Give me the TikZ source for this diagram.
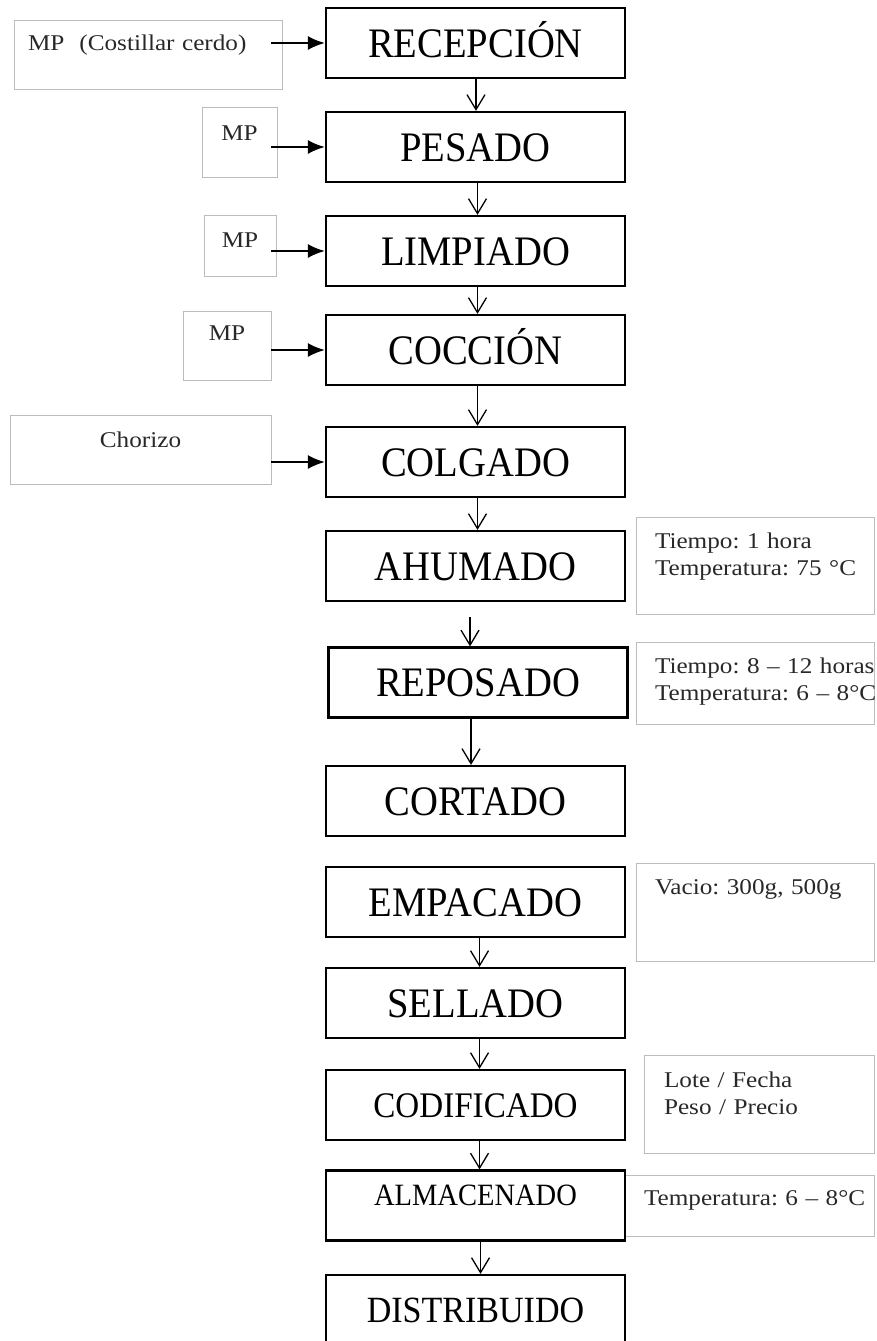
\documentclass[tikz,border=0pt]{standalone}
\usepackage{fontspec}
\usetikzlibrary{arrows.meta}
\newfontfamily\stepfont[FakeStretch=0.92]{Liberation Serif}
\newfontfamily\notefont[FakeStretch=1.12]{Liberation Serif}
\definecolor{noteline}{RGB}{188,188,188}
\definecolor{notetext}{RGB}{40,40,40}
\tikzset{
  stepbox/.style={draw, line width=2.2pt, minimum width=299pt, minimum height=70pt,
    inner sep=0pt, text height=28pt, text depth=0pt,
    font=\stepfont\fontsize{42}{42}\selectfont},
  notebox/.style={draw=noteline, line width=0.9pt, anchor=north west, inner ysep=0pt,
    outer sep=0pt, text=notetext, font=\notefont\fontsize{22.5}{27}\selectfont\frenchspacing},
  flow/.style={line width=1.3pt, -{Straight Barb[length=15pt, width=18pt, line width=1.3pt]}},
  feed/.style={line width=2pt, -{Latex[length=17pt, width=14pt]}}
}
\begin{document}
\begin{tikzpicture}[x=1pt, y=-1pt]
  \path[use as bounding box, clip] (0,0) rectangle (877,1341);
  % entradas
  \node[notebox, align=left, inner xsep=14pt, text width=240pt, text height=30.5pt, text depth=38.5pt] (costillar) at (14,20) {\mbox{MP~~(Costillar cerdo)}};
  \node[notebox, align=center, inner xsep=0pt, text width=75pt, text height=33.5pt, text depth=36.5pt] (mpa) at (202,107) {MP};
  \node[notebox, align=center, inner xsep=0pt, text width=72pt, text height=32.5pt, text depth=28.5pt] (mpb) at (204,215) {MP};
  \node[notebox, align=center, inner xsep=0pt, text width=88pt, text height=29pt, text depth=40pt] (mpc) at (183,311) {MP};
  \node[notebox, align=center, inner xsep=0pt, text width=261pt, text height=32.5pt, text depth=36.5pt] (chorizo) at (10,415) {Chorizo};
  % condiciones
  \node[notebox, align=left, inner xsep=19pt, text width=200pt, text height=31.5pt, text depth=65.5pt] (ahuinfo) at (636,517) {\mbox{Tiempo: 1 hora}\\\mbox{Temperatura: 75 °C}};
  \node[notebox, align=left, inner xsep=19pt, text width=200pt, text height=31.5pt, text depth=50.5pt] (repinfo) at (636,642) {\mbox{Tiempo: 8 – 12 horas}\\\mbox{Temperatura: 6 – 8°C}};
  \node[notebox, align=left, inner xsep=19pt, text width=200pt, text height=31.5pt, text depth=66.5pt] (empinfo) at (636,863) {\mbox{Vacio: 300g, 500g}};
  \node[notebox, align=left, inner xsep=20pt, text width=190pt, text height=32.5pt, text depth=65.5pt] (codinfo) at (644,1055) {\mbox{Lote / Fecha}\\\mbox{Peso / Precio}};
  \node[notebox, align=left, inner xsep=19pt, text width=211pt, text height=30.5pt, text depth=30.5pt] (alminfo) at (625,1175) {\mbox{Temperatura: 6 – 8°C}};
  % etapas
  \foreach \n/\t/\y in {rec/RECEPCIÓN/43, pes/PESADO/147, lim/LIMPIADO/251, coc/COCCIÓN/350,
      col/COLGADO/462, ahu/AHUMADO/566, cor/CORTADO/801, emp/EMPACADO/902, sel/SELLADO/1003}
    \node[stepbox] (\n) at (475.5,\y) {\t};
  \node[stepbox] (rep) at (478,682.5) {REPOSADO};
  \node[stepbox, text height=24pt, font=\stepfont\fontsize{36}{36}\selectfont] (cod) at (475.5,1105) {CODIFICADO};
  \node[stepbox, text height=20.5pt, text depth=21pt, font=\stepfont\fontsize{31}{31}\selectfont] (alm) at (475.5,1205.5) {ALMACENADO};
  \node[stepbox, text height=24.5pt, font=\stepfont\fontsize{37}{37}\selectfont] (dis) at (475.5,1310) {DISTRIBUIDO};
  % flujo
  \foreach \a/\b/\dx in {rec/pes/0.5, pes/lim/2, lim/coc/2, coc/col/2, col/ahu/2,
      emp/sel/4, sel/cod/4, cod/alm/4, alm/dis/5}
    \draw[flow] ([xshift=\dx pt]\a.south) -- ([xshift=\dx pt]\b.north);
  \draw[flow] ([xshift=-5.5pt, yshift=-15pt]ahu.south) -- ([xshift=-8pt]rep.north);
  \draw[flow] ([xshift=-7pt]rep.south) -- ([xshift=-4.5pt]cor.north);
  \foreach \m/\s/\dx in {costillar/rec/11, mpa/pes/6, mpb/lim/5, mpc/coc/0, chorizo/col/0}
    \draw[feed] ([xshift=-\dx pt]\m.east |- \s.west) -- (\s.west);
\end{tikzpicture}
\end{document}
